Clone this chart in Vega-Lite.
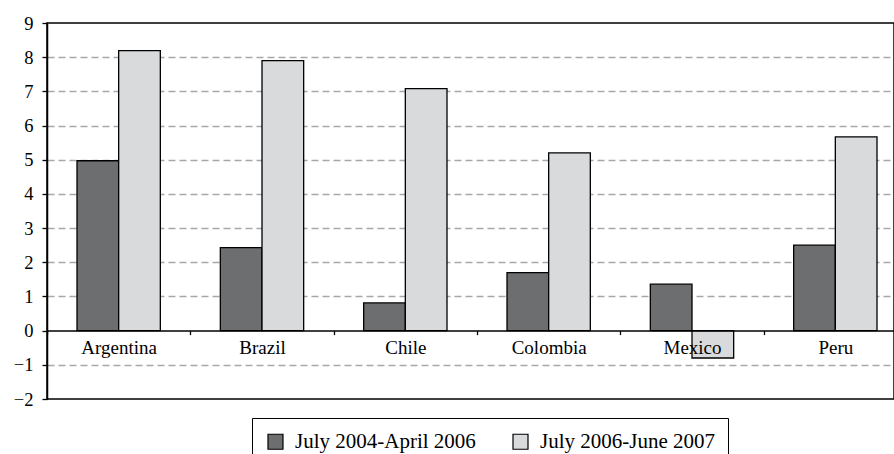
{
  "$schema": "https://vega.github.io/schema/vega-lite/v6.json",
  "autosize": {"type": "none"},
  "width": 847,
  "height": 376,
  "padding": {"left": 47, "top": 23, "right": 0, "bottom": 55},
  "background": "white",
  "config": {
    "view": {"stroke": "black", "strokeWidth": 1.5},
    "font": "Liberation Serif"
  },
  "data": {
    "values": [
      {"country": "Argentina", "period": "July 2004-April 2006", "value": 4.97},
      {"country": "Argentina", "period": "July 2006-June 2007", "value": 8.19},
      {"country": "Brazil", "period": "July 2004-April 2006", "value": 2.43},
      {"country": "Brazil", "period": "July 2006-June 2007", "value": 7.9},
      {"country": "Chile", "period": "July 2004-April 2006", "value": 0.81},
      {"country": "Chile", "period": "July 2006-June 2007", "value": 7.08},
      {"country": "Colombia", "period": "July 2004-April 2006", "value": 1.7},
      {"country": "Colombia", "period": "July 2006-June 2007", "value": 5.2},
      {"country": "Mexico", "period": "July 2004-April 2006", "value": 1.36},
      {"country": "Mexico", "period": "July 2006-June 2007", "value": -0.8},
      {"country": "Peru", "period": "July 2004-April 2006", "value": 2.5},
      {"country": "Peru", "period": "July 2006-June 2007", "value": 5.67}
    ]
  },
  "mark": {"type": "bar", "stroke": "black", "strokeWidth": 1.3},
  "encoding": {
    "x": {
      "field": "country",
      "type": "nominal",
      "sort": ["Argentina", "Brazil", "Chile", "Colombia", "Mexico", "Peru"],
      "scale": {"range": [0, 860], "paddingInner": 0, "paddingOuter": 0},
      "axis": {
        "title": null,
        "orient": "bottom",
        "offset": -68.4,
        "zindex": 1,
        "labelAngle": 0,
        "labelFontSize": 19,
        "labelColor": "black",
        "labelPadding": 4,
        "labelFont": "Liberation Serif",
        "tickBand": "extent",
        "tickSize": 4,
        "tickColor": "black",
        "tickWidth": 1.3,
        "domainColor": "black",
        "domainWidth": 1.5,
        "grid": false
      }
    },
    "xOffset": {
      "field": "period",
      "type": "nominal",
      "scale": {"paddingInner": 0, "paddingOuter": 0.72}
    },
    "y": {
      "field": "value",
      "type": "quantitative",
      "scale": {"domain": [-2, 9], "nice": false, "zero": false},
      "axis": {
        "title": null,
        "values": [-2, -1, 0, 1, 2, 3, 4, 5, 6, 7, 8, 9],
        "labelFontSize": 18.5,
        "labelColor": "black",
        "labelPadding": 9,
        "labelFont": "Liberation Serif",
        "tickSize": 5,
        "tickColor": "black",
        "tickWidth": 1.3,
        "domainColor": "black",
        "domainWidth": 1.5,
        "grid": true,
        "gridWidth": 1.4,
        "gridDash": [7, 4],
        "gridColor": {"condition": {"test": "datum.value === 9 || datum.value === -2 || datum.value === 0", "value": "transparent"}, "value": "#a8a8a8"}
      }
    },
    "color": {
      "field": "period",
      "type": "nominal",
      "scale": {"domain": ["July 2004-April 2006", "July 2006-June 2007"], "range": ["#6d6e70", "#d9dadc"]},
      "legend": {
        "title": null,
        "orient": "none",
        "legendX": 205,
        "legendY": 395,
        "direction": "horizontal",
        "strokeColor": "black",
        "padding": 13,
        "symbolType": "square",
        "symbolSize": 225,
        "symbolStrokeColor": "black",
        "symbolStrokeWidth": 1.2,
        "symbolOpacity": 1,
        "labelFontSize": 21,
        "labelFont": "Liberation Serif",
        "labelColor": "black",
        "labelOffset": 9,
        "columnPadding": 34,
        "labelLimit": 400
      }
    }
  }
}
